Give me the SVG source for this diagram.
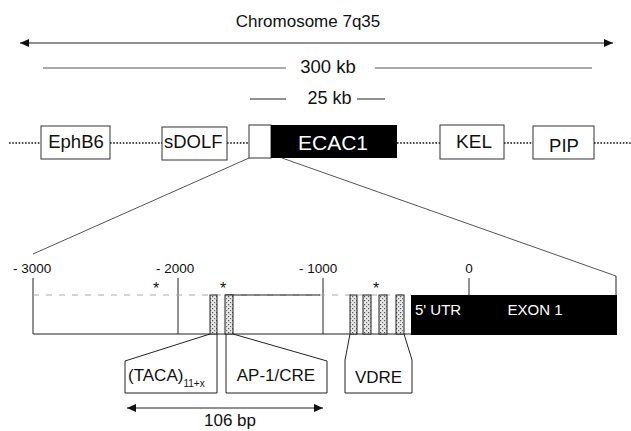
<svg xmlns="http://www.w3.org/2000/svg" width="631" height="431" viewBox="0 0 631 431">
<style>
text{font-family:"Liberation Sans",Arial,sans-serif;fill:#111}
.ln{stroke:#222;stroke-width:1;fill:none}
.gl{stroke:#555;stroke-width:1;fill:none}
.dot{stroke:#111;stroke-width:1.6;stroke-dasharray:1.6,1.6;fill:none}
.box{fill:#fff;stroke:#333;stroke-width:1}
.el{fill:url(#stip);stroke:#222;stroke-width:1}
.wt{fill:#fff}
</style>
<defs>
<marker id="ah" markerUnits="userSpaceOnUse" markerWidth="10" markerHeight="10" refX="9" refY="4" orient="auto-start-reverse"><path d="M0,0 L9,4 L0,8 z" fill="#111"/></marker>
<pattern id="stip" width="4" height="4" patternUnits="userSpaceOnUse"><rect width="4" height="4" fill="#e6e6e6"/><rect x="0" y="0" width="1.2" height="1.2" fill="#555"/><rect x="2" y="2" width="1.2" height="1.2" fill="#777"/></pattern>
</defs>
<rect width="631" height="431" fill="#fff"/>

<g id="title">
<text x="308" y="27" font-size="17" text-anchor="middle">Chromosome 7q35</text>
</g>

<g id="scale">
<text x="328" y="73" font-size="18.5" text-anchor="middle">300 kb</text>
<text x="329.5" y="104" font-size="18" text-anchor="middle">25 kb</text>
</g>

<g id="connectors">
<line class="ln" x1="20" y1="43" x2="613" y2="43" stroke-width="1.6" marker-start="url(#ah)" marker-end="url(#ah)"/>
<line class="gl" x1="43" y1="68" x2="286" y2="68"/>
<line class="gl" x1="375" y1="68" x2="592" y2="68"/>
<line class="ln" x1="250" y1="99" x2="286" y2="99"/>
<line class="ln" x1="357" y1="99" x2="385" y2="99"/>
<line class="dot" x1="9" y1="143" x2="41" y2="143"/>
<line class="dot" x1="110" y1="143" x2="162" y2="143"/>
<line class="dot" x1="227" y1="143" x2="249" y2="143"/>
<line class="dot" x1="397" y1="143" x2="440" y2="143"/>
<line class="dot" x1="504" y1="143" x2="533" y2="143"/>
<line class="dot" x1="594" y1="143" x2="631" y2="143"/>
<line class="gl" x1="249" y1="158" x2="33" y2="254"/>
<line class="gl" x1="282" y1="158" x2="616" y2="276"/>
<line class="ln" x1="616" y1="276" x2="616" y2="295"/>
<line class="ln" x1="127" y1="408" x2="323" y2="408" stroke-width="1.6" marker-start="url(#ah)" marker-end="url(#ah)"/>
</g>

<g id="EphB6">
<rect class="box" x="41" y="126" width="69" height="33"/>
<text x="76" y="148" font-size="18.5" text-anchor="middle">EphB6</text>
</g>
<g id="sDOLF">
<rect class="box" x="162" y="127" width="65" height="33"/>
<text x="164" y="148" font-size="18.5">sDOLF</text>
</g>
<g id="ECAC1">
<rect class="box" x="249" y="125" width="22" height="33"/>
<rect x="271" y="125" width="126" height="33" fill="#000"/>
<text x="333" y="150" font-size="21" text-anchor="middle" class="wt">ECAC1</text>
</g>
<g id="KEL">
<rect class="box" x="440" y="125" width="64" height="34"/>
<text x="474" y="148" font-size="19" text-anchor="middle">KEL</text>
</g>
<g id="PIP">
<rect class="box" x="533" y="126" width="61" height="33"/>
<text x="564" y="152" font-size="18.5" text-anchor="middle">PIP</text>
</g>

<g id="promoter">
<text x="13" y="273" font-size="13.5">- 3000</text>
<text x="156" y="273" font-size="13.5">- 2000</text>
<text x="299" y="273" font-size="13.5">- 1000</text>
<text x="469" y="273" font-size="13.5" text-anchor="middle">0</text>
<line class="ln" x1="33" y1="278" x2="33" y2="334"/>
<line class="ln" x1="178" y1="278" x2="178" y2="334"/>
<line class="ln" x1="323" y1="278" x2="323" y2="334"/>
<line class="ln" x1="469" y1="278" x2="469" y2="295"/>
<line x1="33" y1="295" x2="411" y2="295" stroke="#aaa" stroke-width="1" stroke-dasharray="6,7"/>
<line class="ln" x1="225" y1="295" x2="320" y2="295"/>
<line class="ln" x1="33" y1="334" x2="411" y2="334"/>
<text x="156" y="294" font-size="16" text-anchor="middle">*</text>
<text x="223" y="294" font-size="16" text-anchor="middle">*</text>
<text x="376" y="294" font-size="16" text-anchor="middle">*</text>
</g>

<g id="elements">
<rect class="el" x="210" y="295" width="7" height="39"/>
<rect class="el" x="225" y="295" width="8" height="39"/>
<rect class="el" x="350" y="295" width="7" height="39"/>
<rect class="el" x="363" y="295" width="8" height="39"/>
<rect class="el" x="379" y="295" width="8" height="39"/>
<rect class="el" x="396" y="295" width="8" height="39"/>
</g>

<g id="exon1">
<rect x="411" y="295" width="206" height="40" fill="#000"/>
<text x="415" y="315" font-size="15" class="wt">5' UTR</text>
<text x="535" y="315" font-size="15" text-anchor="middle" class="wt">EXON 1</text>
</g>

<g id="TACA">
<path class="ln" d="M210,334 L125,361 L125,393 L217,393 L217,334"/>
<text x="128" y="381" font-size="17">(TACA)<tspan font-size="10" dy="6">11+x</tspan></text>
</g>
<g id="AP1CRE">
<path class="ln" d="M233,334 L327,361 L327,393 L226,393 L226,334"/>
<text x="276" y="381" font-size="17" text-anchor="middle">AP-1/CRE</text>
</g>
<g id="VDRE">
<path class="ln" d="M350,334 L345,360 L345,393 L412,393 L412,360 L404,334"/>
<text x="378.5" y="383" font-size="17" text-anchor="middle">VDRE</text>
</g>

<g id="bp">
<text x="230" y="426" font-size="17" text-anchor="middle">106 bp</text>
</g>
</svg>
